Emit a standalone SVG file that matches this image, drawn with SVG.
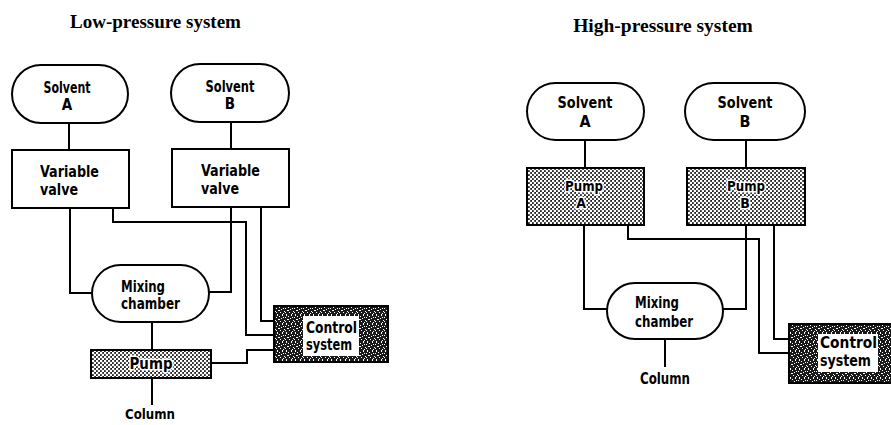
<svg xmlns="http://www.w3.org/2000/svg" width="891" height="425" viewBox="0 0 891 425">
<defs>
<pattern id="dots" width="4" height="4" patternUnits="userSpaceOnUse">
<rect width="4" height="4" fill="#222"/>
<circle cx="1" cy="1" r="1.35" fill="#fff"/>
<circle cx="3" cy="3" r="1.35" fill="#fff"/>
</pattern>
<pattern id="stipple" width="9" height="9" patternUnits="userSpaceOnUse">
<rect width="9" height="9" fill="#1a1a1a"/>
<rect x="0" y="1" width="1" height="1" fill="#fff"/>
<rect x="3" y="0" width="1" height="1" fill="#fff"/>
<rect x="6" y="2" width="1" height="1" fill="#fff"/>
<rect x="2" y="3" width="1" height="1" fill="#fff"/>
<rect x="8" y="4" width="1" height="1" fill="#fff"/>
<rect x="5" y="5" width="1" height="1" fill="#fff"/>
<rect x="1" y="6" width="1" height="1" fill="#fff"/>
<rect x="4" y="7" width="1" height="1" fill="#fff"/>
<rect x="7" y="8" width="1" height="1" fill="#fff"/>
<rect x="7" y="0" width="1" height="1" fill="#fff"/>
<rect x="0" y="4" width="1" height="1" fill="#fff"/>
<rect x="3" y="8" width="1" height="1" fill="#fff"/>
<rect x="6" y="6" width="1" height="1" fill="#fff"/>
<rect x="4" y="2" width="1" height="1" fill="#fff"/>
</pattern>
</defs>
<style>
.title{font-family:"Liberation Serif","Times New Roman",serif;font-weight:bold;text-anchor:middle;fill:#000}
.t{font-family:"DejaVu Sans Condensed","DejaVu Sans",sans-serif;font-weight:bold;font-size:15px;fill:#000}
.tr{font-size:16px}
.ts{font-size:14px}
.c{text-anchor:middle}
.halo{stroke:#fff;stroke-width:3;paint-order:stroke;stroke-linejoin:round}
.box{fill:#fff;stroke:#000;stroke-width:2}
.pump{fill:url(#dots);stroke:#000;stroke-width:2}
.ctrl{fill:url(#stipple);stroke:#000;stroke-width:2}
.inner{fill:#fff;stroke:none}
.wire{fill:none;stroke:#000;stroke-width:2}
</style>
<rect width="891" height="425" fill="#fff"/>
<text class="title" x="155.5" y="28" font-size="19">Low-pressure system</text>
<text class="title" x="663" y="32" font-size="19.5">High-pressure system</text>

<g id="connectors">
<path class="wire" d="M69,123 V150"/>
<path class="wire" d="M231,122 V149"/>
<path class="wire" d="M70,208 V293 H92"/>
<path class="wire" d="M113,208 V222 H246 V335 H274"/>
<path class="wire" d="M231,207 V292 H209"/>
<path class="wire" d="M261,207 V321 H274"/>
<path class="wire" d="M152,322 V350"/>
<path class="wire" d="M211,363 H247 V350 H274"/>
<path class="wire" d="M152,378 V405"/>
<path class="wire" d="M585,140 V168"/>
<path class="wire" d="M746,140 V168"/>
<path class="wire" d="M584,225 V309 H607"/>
<path class="wire" d="M628,225 V239 H759 V353 H789"/>
<path class="wire" d="M746,225 V309 H723"/>
<path class="wire" d="M774,225 V339 H789"/>
<path class="wire" d="M665,339 V367"/>
</g>

<g id="lp-solvent-a">
<rect class="box" x="12" y="65" width="116" height="58" rx="29"/>
<text class="t c" x="67" y="93" textLength="47" lengthAdjust="spacingAndGlyphs">Solvent</text>
<text class="t c" x="67" y="110">A</text>
</g>
<g id="lp-solvent-b">
<rect class="box" x="171" y="64" width="118" height="58" rx="29"/>
<text class="t c" x="230" y="92" textLength="49" lengthAdjust="spacingAndGlyphs">Solvent</text>
<text class="t c" x="230" y="109">B</text>
</g>
<g id="lp-valve-a">
<rect class="box" x="12" y="150" width="117" height="58"/>
<text class="t" x="40" y="177" textLength="59" lengthAdjust="spacingAndGlyphs">Variable</text>
<text class="t" x="40" y="195" textLength="38" lengthAdjust="spacingAndGlyphs">valve</text>
</g>
<g id="lp-valve-b">
<rect class="box" x="172" y="149" width="117" height="58"/>
<text class="t" x="201" y="176" textLength="59" lengthAdjust="spacingAndGlyphs">Variable</text>
<text class="t" x="201" y="194" textLength="38" lengthAdjust="spacingAndGlyphs">valve</text>
</g>
<g id="lp-mixing">
<rect class="box" x="92" y="265" width="117" height="57" rx="28.5"/>
<text class="t" x="121" y="292" textLength="44" lengthAdjust="spacingAndGlyphs">Mixing</text>
<text class="t" x="121" y="309" textLength="59" lengthAdjust="spacingAndGlyphs">chamber</text>
</g>
<g id="lp-pump">
<rect class="pump" x="91" y="350" width="120" height="28"/>
<text class="t c halo" x="151" y="369" textLength="43" lengthAdjust="spacingAndGlyphs">Pump</text>
</g>
<g id="lp-column">
<text class="t ts c" x="150" y="419" textLength="50" lengthAdjust="spacingAndGlyphs">Column</text>
</g>
<g id="lp-control">
<rect class="ctrl" x="274" y="306" width="114" height="56"/>
<rect class="inner" x="303" y="316" width="56" height="40"/>
<text class="t" x="306" y="333" textLength="51" lengthAdjust="spacingAndGlyphs">Control</text>
<text class="t" x="306" y="350" textLength="46" lengthAdjust="spacingAndGlyphs">system</text>
</g>

<g id="hp-solvent-a">
<rect class="box" x="527" y="83" width="117" height="57" rx="28.5"/>
<text class="t tr c" x="585" y="108" textLength="55" lengthAdjust="spacingAndGlyphs">Solvent</text>
<text class="t tr c" x="585" y="127">A</text>
</g>
<g id="hp-solvent-b">
<rect class="box" x="685" y="83" width="120" height="57" rx="28.5"/>
<text class="t tr c" x="745" y="108" textLength="55" lengthAdjust="spacingAndGlyphs">Solvent</text>
<text class="t tr c" x="745" y="127">B</text>
</g>
<g id="hp-pump-a">
<rect class="pump" x="527" y="168" width="117" height="57"/>
<text class="t ts c halo" x="584" y="191" textLength="38" lengthAdjust="spacingAndGlyphs">Pump</text>
<text class="t ts c halo" x="581" y="208">A</text>
</g>
<g id="hp-pump-b">
<rect class="pump" x="687" y="168" width="118" height="57"/>
<text class="t ts c halo" x="746" y="191" textLength="38" lengthAdjust="spacingAndGlyphs">Pump</text>
<text class="t ts c halo" x="745" y="208">B</text>
</g>
<g id="hp-mixing">
<rect class="box" x="607" y="283" width="116" height="56" rx="28"/>
<text class="t tr" x="635" y="308" textLength="44" lengthAdjust="spacingAndGlyphs">Mixing</text>
<text class="t tr" x="635" y="327" textLength="58" lengthAdjust="spacingAndGlyphs">chamber</text>
</g>
<g id="hp-column">
<text class="t tr c" x="665" y="384" textLength="50" lengthAdjust="spacingAndGlyphs">Column</text>
</g>
<g id="hp-control">
<rect class="ctrl" x="789" y="324" width="106" height="59"/>
<rect class="inner" x="818" y="334" width="60" height="38"/>
<text class="t" x="820" y="348" textLength="57" lengthAdjust="spacingAndGlyphs">Control</text>
<text class="t" x="820" y="366" textLength="51" lengthAdjust="spacingAndGlyphs">system</text>
</g>
</svg>
